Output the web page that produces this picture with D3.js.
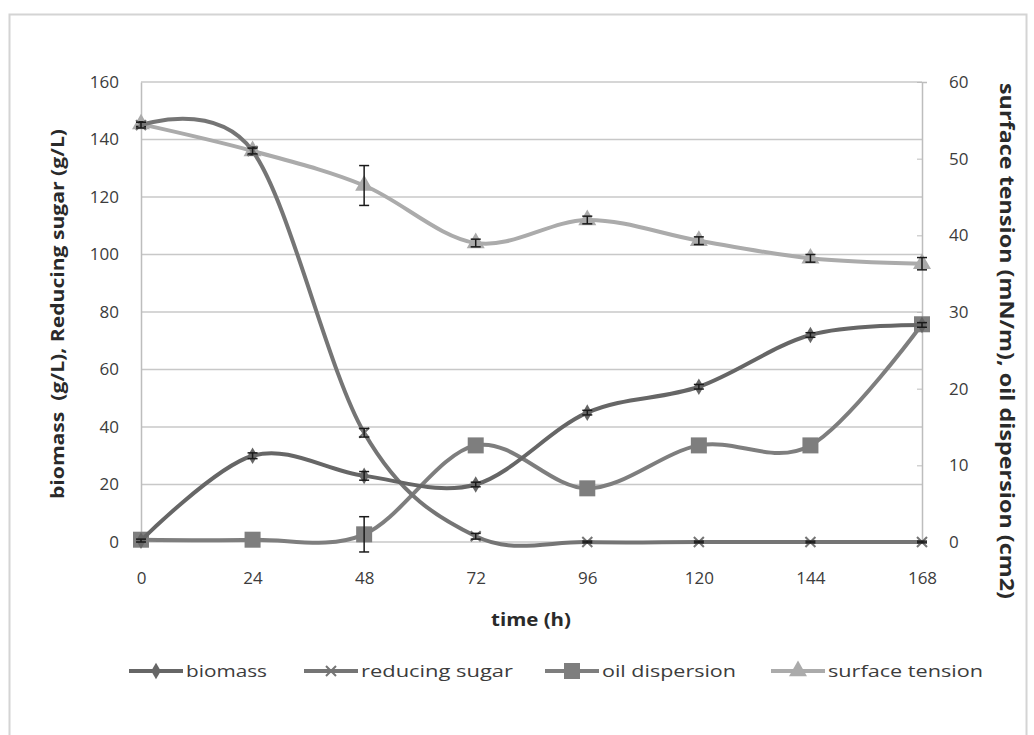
<!DOCTYPE html>
<html>
<head>
<meta charset="utf-8">
<script src="https://cdn.jsdelivr.net/npm/d3@7"></script>
<style>
  body { margin: 0; background: #fff; }
  svg { font-family: "Open Sans", "Liberation Sans", sans-serif; }
</style>
</head>
<body>
<svg id="chart"></svg>
<script>
// time points (h)
let hours = [0, 24, 48, 72, 96, 120, 144, 168];
let leftTicks = [0, 20, 40, 60, 80, 100, 120, 140, 160];
let rightTicks = [0, 10, 20, 30, 40, 50, 60];

// left axis series (g/L)
let biomass = [0.5, 30, 23, 20, 45, 54, 72, 75.5];
let biomassErr = [0.5, 1, 1.5, 0.8, 0.8, 0.8, 0.8, 0.8];
let reducingSugar = [145, 136, 38, 2, 0, 0, 0, 0];
let reducingSugarErr = [1, 1, 1.5, 1, 0.3, 0.3, 0.3, 0.3];

// right axis series
let oilDispersion = [0.3, 0.3, 1.0, 12.6, 7.0, 12.6, 12.6, 28.4];
let oilDispersionErr = [0, 0, 2.3, 0, 0, 0, 0, 0];
let surfaceTension = [54.5, 51, 46.5, 39, 42, 39.3, 37, 36.3];
let surfaceTensionErr = [0.3, 0.5, 2.6, 0.5, 0.5, 0.5, 0.5, 0.8];

let legendNames = ["biomass", "reducing sugar", "oil dispersion", "surface tension"];

function getConfig() {
    let width = 1034;
    let height = 735;
    let margin = { top: 82, bottom: 193, left: 141, right: 112 };
    let bodyWidth = width - margin.left - margin.right;
    let bodyHeight = height - margin.top - margin.bottom;
    let container = d3.select("#chart")
        .attr("width", width)
        .attr("height", height);
    return { width, height, margin, bodyWidth, bodyHeight, container };
}

function getScales(config) {
    let { bodyWidth, bodyHeight } = config;
    let xScale = d3.scaleLinear().domain([0, 168]).range([0, bodyWidth]);
    let yLeft = d3.scaleLinear().domain([0, 160]).range([bodyHeight, 0]);
    let yRight = d3.scaleLinear().domain([0, 60]).range([bodyHeight, 0]);
    return { xScale, yLeft, yRight };
}

function drawFrame(config) {
    config.container.append("rect")
        .attr("x", 9.5).attr("y", 14.5)
        .attr("width", 1017).attr("height", 760)
        .attr("fill", "none")
        .attr("stroke", "#d4d4d4")
        .attr("stroke-width", 2);
}

function styleAxis(g) {
    g.attr("font-family", null);
    g.selectAll("text").attr("font-size", 17).attr("fill", "#3c3c3c");
}

function drawAxes(scales, config) {
    let { xScale, yLeft, yRight } = scales;
    let { container, margin, bodyWidth, bodyHeight } = config;
    let body = container.append("g")
        .attr("transform", `translate(${margin.left},${margin.top})`);

    // gridlines
    body.selectAll(".grid").data(leftTicks).enter().append("line")
        .attr("x1", 0).attr("x2", bodyWidth)
        .attr("y1", d => yLeft(d)).attr("y2", d => yLeft(d))
        .attr("stroke", "#c8c8c8").attr("stroke-width", 1.5);

    // left axis
    let axisLeft = body.append("g")
        .call(d3.axisLeft(yLeft).tickValues(leftTicks).tickSize(0).tickPadding(22));
    axisLeft.select(".domain").attr("stroke", "#bdbdbd").attr("stroke-width", 1.5);
    styleAxis(axisLeft);

    // right axis
    let axisRight = body.append("g")
        .attr("transform", `translate(${bodyWidth},0)`)
        .call(d3.axisRight(yRight).tickValues(rightTicks).tickSize(5).tickPadding(22));
    axisRight.select(".domain").attr("stroke", "#bdbdbd").attr("stroke-width", 1.5);
    axisRight.selectAll(".tick line").attr("stroke", "#bdbdbd").attr("x1", -5).attr("x2", 0);
    styleAxis(axisRight);

    // bottom axis
    let axisBottom = body.append("g")
        .attr("transform", `translate(0,${bodyHeight})`)
        .call(d3.axisBottom(xScale).tickValues(hours).tickSize(0).tickPadding(30));
    axisBottom.select(".domain").remove();
    styleAxis(axisBottom);

    // titles
    container.append("text")
        .attr("transform", `translate(64,${margin.top + bodyHeight / 2 + 2}) rotate(-90)`)
        .attr("text-anchor", "middle")
        .attr("font-size", 18).attr("font-weight", "bold").attr("fill", "#2a2a2a")
        .attr("textLength", 370).attr("lengthAdjust", "spacingAndGlyphs")
        .attr("xml:space", "preserve")
        .text("biomass  (g/L), Reducing sugar (g/L)");

    container.append("text")
        .attr("transform", `translate(1000,${341}) rotate(90)`)
        .attr("text-anchor", "middle")
        .attr("font-size", 20).attr("font-weight", "bold").attr("fill", "#2a2a2a")
        .attr("textLength", 516).attr("lengthAdjust", "spacingAndGlyphs")
        .text("surface tension (mN/m), oil dispersion (cm2)");

    container.append("text")
        .attr("x", 531).attr("y", 626)
        .attr("text-anchor", "middle")
        .attr("font-size", 18).attr("font-weight", "bold").attr("fill", "#2a2a2a")
        .attr("textLength", 80).attr("lengthAdjust", "spacingAndGlyphs")
        .text("time (h)");

    return body;
}

function marker(sel, type, color) {
    if (type === "diamond") {
        sel.append("path").attr("d", d3.symbol(d3.symbolDiamond, 80)).attr("fill", color);
    } else if (type === "cross") {
        sel.append("path").attr("d", "M-5,-5L5,5M-5,5L5,-5")
            .attr("stroke", color).attr("stroke-width", 2).attr("fill", "none");
    } else if (type === "square") {
        sel.append("rect").attr("x", -8).attr("y", -8).attr("width", 16).attr("height", 16).attr("fill", color);
    } else if (type === "triangle") {
        sel.append("path").attr("d", d3.symbol(d3.symbolTriangle, 140)).attr("fill", color);
    }
}

function drawSeries(body, values, errs, xScale, yScale, color, type) {
    let data = hours.map((h, i) => ({ h, v: values[i], e: errs[i] }));
    let line = d3.line()
        .x(d => xScale(d.h))
        .y(d => yScale(d.v))
        .curve(d3.curveCardinal.tension(0));
    body.append("path").datum(data)
        .attr("d", line)
        .attr("fill", "none")
        .attr("stroke", color)
        .attr("stroke-width", 4);

    let points = body.selectAll(null).data(data).enter().append("g")
        .attr("transform", d => `translate(${xScale(d.h)},${yScale(d.v)})`);
    marker(points, type, color);

    let bars = body.selectAll(null).data(data.filter(d => d.e > 0)).enter().append("g")
        .attr("stroke", "#1a1a1a").attr("stroke-width", 1.5);
    bars.append("line")
        .attr("x1", d => xScale(d.h)).attr("x2", d => xScale(d.h))
        .attr("y1", d => yScale(d.v + d.e)).attr("y2", d => yScale(d.v - d.e));
    bars.append("line")
        .attr("x1", d => xScale(d.h) - 5).attr("x2", d => xScale(d.h) + 5)
        .attr("y1", d => yScale(d.v + d.e)).attr("y2", d => yScale(d.v + d.e));
    bars.append("line")
        .attr("x1", d => xScale(d.h) - 5).attr("x2", d => xScale(d.h) + 5)
        .attr("y1", d => yScale(d.v - d.e)).attr("y2", d => yScale(d.v - d.e));
}

function drawLegend(config) {
    let colors = ["#666666", "#757575", "#7e7e7e", "#ababab"];
    let types = ["diamond", "cross", "square", "triangle"];
    let xs = [129, 304, 545, 771];
    let textWidths = [81, 152, 134, 155];
    let legend = config.container.append("g").attr("transform", "translate(0,671)");
    legendNames.forEach((name, i) => {
        let g = legend.append("g").attr("transform", `translate(${xs[i]},0)`);
        g.append("line").attr("x1", 0).attr("x2", 54).attr("stroke", colors[i]).attr("stroke-width", 4);
        let m = g.append("g").attr("transform", "translate(27,0)");
        marker(m, types[i], colors[i]);
        g.append("text").attr("x", 57).attr("y", 6)
            .attr("font-size", 17).attr("fill", "#3c3c3c")
            .attr("textLength", textWidths[i]).attr("lengthAdjust", "spacingAndGlyphs")
            .text(name);
    });
}

function drawChart() {
    let config = getConfig();
    let scales = getScales(config);
    drawFrame(config);
    let body = drawAxes(scales, config);
    let { xScale, yLeft, yRight } = scales;
    drawSeries(body, surfaceTension, surfaceTensionErr, xScale, yRight, "#ababab", "triangle");
    drawSeries(body, oilDispersion, oilDispersionErr, xScale, yRight, "#7e7e7e", "square");
    drawSeries(body, reducingSugar, reducingSugarErr, xScale, yLeft, "#757575", "cross");
    drawSeries(body, biomass, biomassErr, xScale, yLeft, "#666666", "diamond");
    drawLegend(config);
}

drawChart();
</script>
</body>
</html>
